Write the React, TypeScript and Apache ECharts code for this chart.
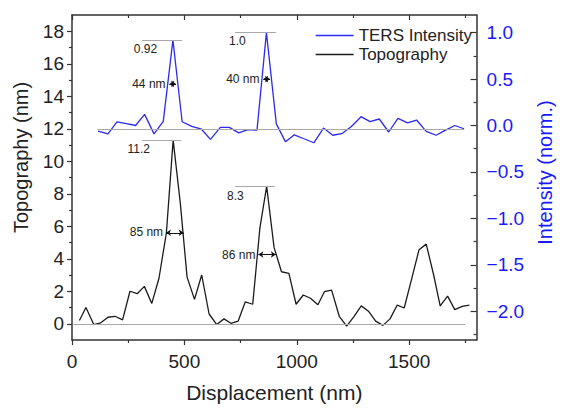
import React, { useEffect, useRef } from "react";
import * as echarts from "echarts";

// ---------- data ----------
const displacementTopo = [33, 62, 97, 128, 160, 191, 225, 258, 290, 322, 355, 387, 420, 450, 482, 512, 545, 577, 610, 644, 676, 707, 739, 771, 804, 836, 866, 899, 932, 965, 997, 1029, 1061, 1094, 1123, 1155, 1189, 1222, 1255, 1287, 1319, 1351, 1383, 1415, 1447, 1478, 1510, 1544, 1576, 1609, 1638, 1671, 1703, 1736, 1768];
const topography = [0.2, 1.0, -0.05, 0.06, 0.4, 0.46, 0.24, 2.0, 1.85, 2.3, 1.25, 2.8, 5.6, 11.3, 7.4, 2.87, 1.5, 3.0, 0.6, -0.05, 0.3, 0.03, 0.16, 1.35, 1.2, 5.9, 8.45, 4.7, 3.2, 3.1, 1.2, 1.77, 1.57, 1.17, 1.97, 2.07, 0.46, -0.14, 0.46, 1.1, 0.77, 0.16, -0.1, 0.3, 1.15, 0.97, 2.7, 4.56, 4.9, 3.0, 1.1, 1.7, 0.87, 1.07, 1.15];

const displacementTers = [116, 160, 200, 242, 283, 323, 365, 406, 449, 490, 533, 576, 616, 660, 700, 742, 783, 823, 865, 909, 950, 989, 1029, 1076, 1119, 1160, 1200, 1243, 1286, 1326, 1367, 1409, 1450, 1493, 1533, 1576, 1620, 1660, 1703, 1744];
const tersIntensity = [-0.06, -0.09, 0.04, 0.02, 0.0, 0.12, -0.09, 0.045, 0.92, 0.04, -0.01, -0.04, -0.15, -0.02, -0.02, -0.08, -0.045, -0.05, 1.0, 0.017, -0.176, -0.1, -0.14, -0.186, -0.028, -0.105, -0.088, -0.011, 0.095, 0.042, 0.07, -0.07, 0.077, 0.028, 0.059, -0.063, -0.105, -0.053, 0.0, -0.035];

const xTickValues = [0, 500, 1000, 1500];
const xMinorTickValues = [250, 750, 1250, 1750];
const topoTickValues = [0, 2, 4, 6, 8, 10, 12, 14, 16, 18];
const topoMinorTickValues = [1, 3, 5, 7, 9, 11, 13, 15, 17];
const intensityTickValues = [-2, -1.5, -1, -0.5, 0, 0.5, 1];
const intensityMinorTickValues = [-2.25, -1.75, -1.25, -0.75, -0.25, 0.25, 0.75];

// reference (grey) lines: [x1, x2, value]
const topoRefLines = [[7, 1750, 0], [113, 1745, 12], [312, 486, 11.3], [725, 903, 8.45]];
const tersRefLines = [[312, 490, 0.92], [725, 907, 1.0]];
// FWHM arrows: [x1, x2, value]
const topoArrows = [[418, 497, 5.6], [829, 907, 4.26]];
const tersArrows = [[433, 463, 0.448], [851, 881, 0.5]];
// annotation texts: [text, x, value]
const topoNotes: [string, number, number][] = [["11.2", 297, 10.78], ["85 nm", 331, 5.63], ["8.3", 727, 7.87], ["86 nm", 742, 4.26]];
const tersNotes: [string, number, number][] = [["0.92", 327, 0.824], ["44 nm", 342, 0.448], ["1.0", 736, 0.905], ["40 nm", 760, 0.498]];

const FONT = "'Liberation Sans', Arial, sans-serif";
const AXIS_COLOR = "#333333";
const BLUE = "#2a2af2";
const BLACK = "#1b1b1b";

function refLineData(lines: number[][]) {
  return lines.map((l) => [{ coord: [l[0], l[2]] }, { coord: [l[1], l[2]] }]);
}
function arrowData(lines: number[][]) {
  return lines.map((l) => [
    { coord: [l[0], l[2]], symbol: "arrow", symbolSize: 5, lineStyle: { color: "#111", type: "solid", width: 1 } },
    { coord: [l[1], l[2]], symbol: "arrow", symbolSize: 5 },
  ]);
}
function noteData(notes: [string, number, number][]) {
  return notes.map((n) => ({ name: n[0], coord: [n[1], n[2]] }));
}

export default function App() {
  const ref = useRef<HTMLDivElement>(null);
  useEffect(() => {
    if (!ref.current) return;
    const chart = echarts.init(ref.current, null, { renderer: "svg" });
    const axisLine = { show: true, onZero: false, lineStyle: { color: AXIS_COLOR, width: 1.5 } };
    const noLine = { show: false, onZero: false };
    const tickStyle = { color: AXIS_COLOR, width: 1.2 };
    const markLineCommon = (data: any[]) => ({
      silent: true,
      symbol: ["none", "none"],
      label: { show: false },
      lineStyle: { color: "#a8a8a8", width: 1, type: "solid" },
      data,
    });
    const markPointCommon = (data: any[]) => ({
      silent: true,
      symbol: "circle",
      symbolSize: 0,
      label: { show: true, position: "inside", formatter: "{b}", fontSize: 12, color: "#222", fontFamily: FONT },
      data,
    });

    chart.setOption({
      animation: false,
      backgroundColor: "#ffffff",
      textStyle: { fontFamily: FONT },
      grid: { left: 72, right: 76, top: 15, bottom: 60, containLabel: false },
      legend: {
        data: [
          { name: "TERS Intensity", icon: "rect" },
          { name: "Topography", icon: "rect" },
        ],
        orient: "vertical",
        right: 91,
        top: 27,
        padding: 0,
        itemWidth: 38,
        itemHeight: 1.5,
        itemGap: 2,
        textStyle: { fontSize: 17, color: "#222", fontFamily: FONT, lineHeight: 16 },
      },
      xAxis: [
        {
          type: "value", position: "bottom", min: 0, max: 1800,
          axisLine, splitLine: { show: false },
          axisTick: { show: true, length: 5, inside: false, customValues: xTickValues, lineStyle: tickStyle },
          axisLabel: { show: true, customValues: xTickValues, fontSize: 19, color: "#222", margin: 12, formatter: (v: number) => String(v) },
          name: "Displacement (nm)", nameLocation: "middle", nameGap: 42,
          nameTextStyle: { fontSize: 21, color: "#222" },
        },
        {
          type: "value", position: "bottom", min: 0, max: 1800,
          axisLine: noLine, splitLine: { show: false }, axisLabel: { show: false },
          axisTick: { show: true, length: 3, inside: false, customValues: xMinorTickValues, lineStyle: tickStyle },
        },
        {
          type: "value", position: "top", min: 0, max: 1800,
          axisLine, splitLine: { show: false }, axisLabel: { show: false },
          axisTick: { show: true, length: 5, inside: true, customValues: xTickValues, lineStyle: tickStyle },
        },
        {
          type: "value", position: "top", min: 0, max: 1800,
          axisLine: noLine, splitLine: { show: false }, axisLabel: { show: false },
          axisTick: { show: true, length: 3, inside: true, customValues: xMinorTickValues, lineStyle: tickStyle },
        },
      ],
      yAxis: [
        {
          type: "value", position: "left", min: -1, max: 19,
          axisLine, splitLine: { show: false },
          axisTick: { show: true, length: 5, inside: false, customValues: topoTickValues, lineStyle: tickStyle },
          axisLabel: { show: true, customValues: topoTickValues, fontSize: 19, color: "#222", margin: 8 },
          name: "Topography (nm)", nameLocation: "middle", nameRotate: 90, nameGap: 41,
          nameTextStyle: { fontSize: 20, color: "#222", padding: [0, 0, 0, 40] },
        },
        {
          type: "value", position: "left", min: -1, max: 19,
          axisLine: noLine, splitLine: { show: false }, axisLabel: { show: false },
          axisTick: { show: true, length: 3, inside: false, customValues: topoMinorTickValues, lineStyle: tickStyle },
        },
        {
          type: "value", position: "right", min: -2.31, max: 1.19,
          axisLine, splitLine: { show: false },
          axisTick: { show: true, length: 6, inside: true, customValues: intensityTickValues, lineStyle: tickStyle },
          axisLabel: {
            show: true, customValues: intensityTickValues, fontSize: 19, color: "#1a1aff", margin: 10,
            formatter: (v: number) => v.toFixed(1).replace("-", "\u2212"),
          },
          name: "Intensity (norm.)", nameLocation: "middle", nameRotate: 90, nameGap: 58,
          nameTextStyle: { fontSize: 20, color: "#1a1aff", padding: [0, 0, 0, 10] },
        },
        {
          type: "value", position: "right", min: -2.31, max: 1.19,
          axisLine: noLine, splitLine: { show: false }, axisLabel: { show: false },
          axisTick: { show: true, length: 3, inside: true, customValues: intensityMinorTickValues, lineStyle: tickStyle },
        },
      ],
      series: [
        {
          name: "TERS Intensity", type: "line", xAxisIndex: 0, yAxisIndex: 2,
          symbol: "none", color: BLUE, lineStyle: { color: BLUE, width: 1.3 },
          data: displacementTers.map((x, i) => [x, tersIntensity[i]]),
          markLine: markLineCommon([...refLineData(tersRefLines), ...arrowData(tersArrows)]),
          markPoint: markPointCommon(noteData(tersNotes)),
          z: 3,
        },
        {
          name: "Topography", type: "line", xAxisIndex: 0, yAxisIndex: 0,
          symbol: "none", color: BLACK, lineStyle: { color: BLACK, width: 1.3 },
          data: displacementTopo.map((x, i) => [x, topography[i]]),
          markLine: markLineCommon([...refLineData(topoRefLines), ...arrowData(topoArrows)]),
          markPoint: markPointCommon(noteData(topoNotes)),
          z: 2,
        },
      ],
    });
    return () => chart.dispose();
  }, []);
  return (
    <div
      ref={ref}
      style={{ position: "fixed", left: 0, top: 0, width: 563, height: 408, background: "#fff" }}
    />
  );
}
